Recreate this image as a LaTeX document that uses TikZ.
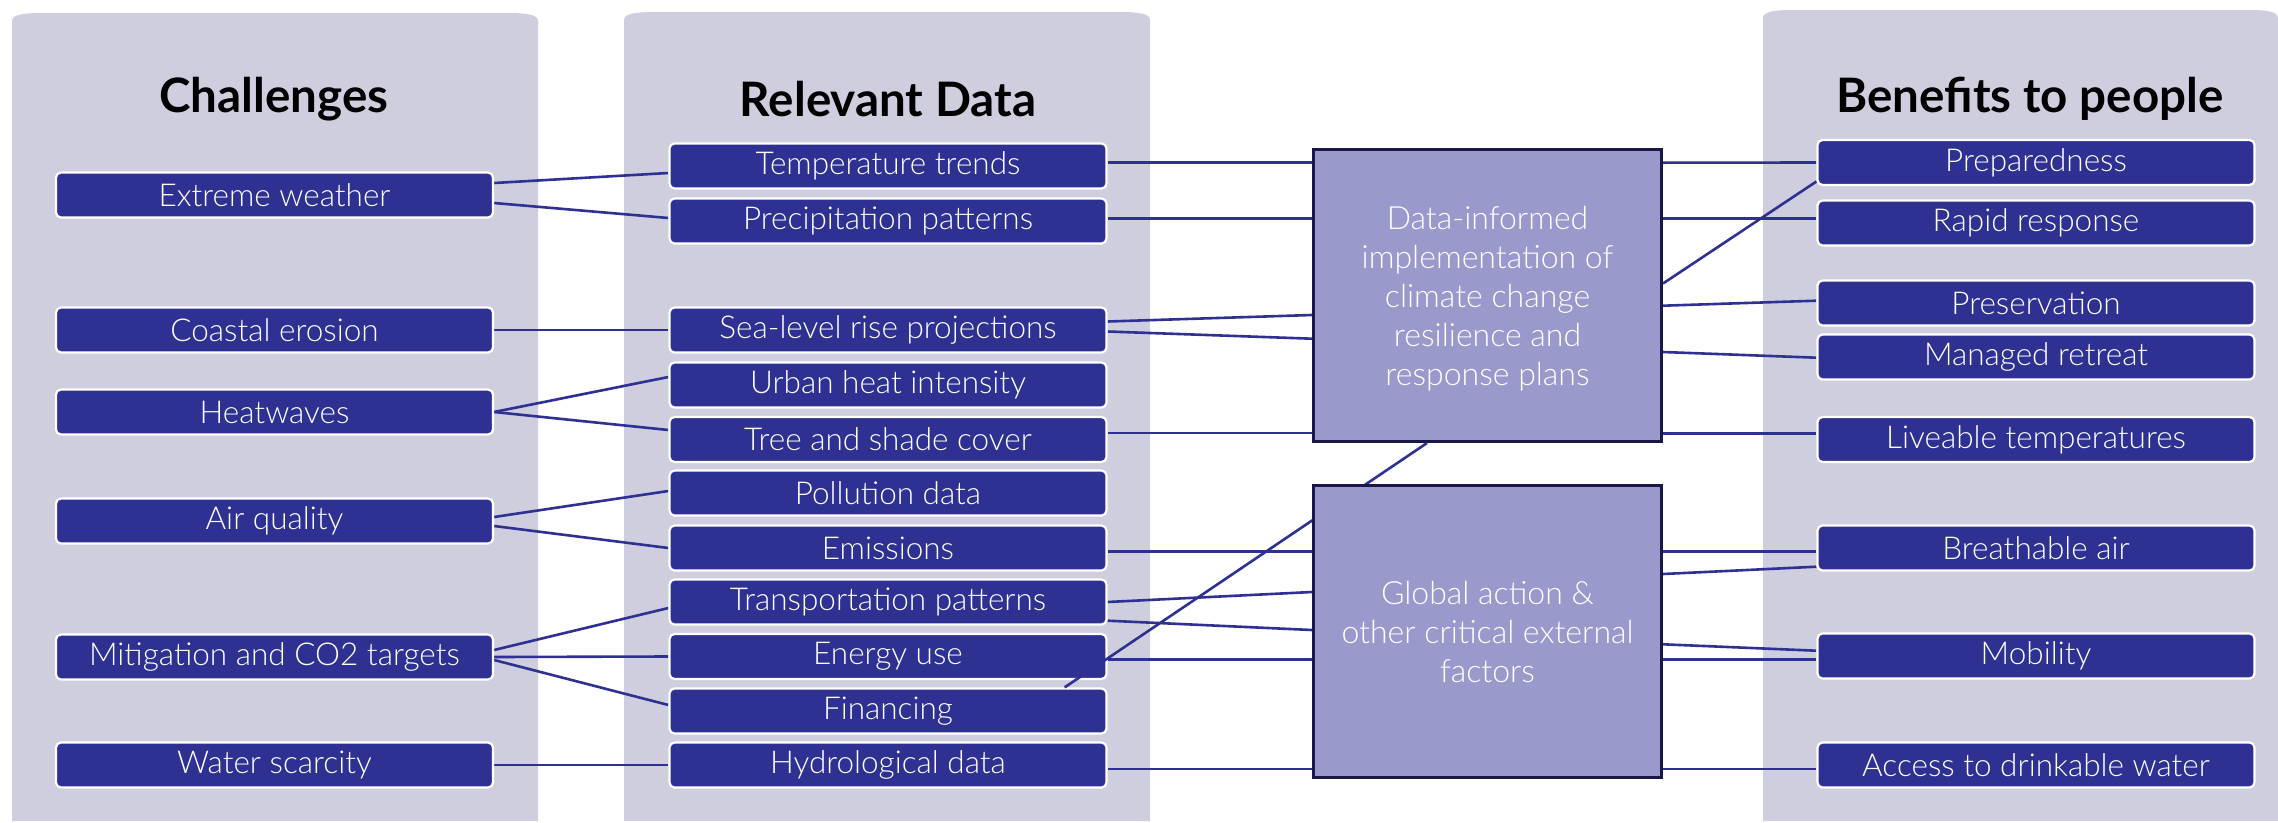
\documentclass[tikz,border=0pt]{standalone}
\usepackage{fontspec}
\setmainfont{Lato}
\newfontfamily\lightfont{Lato Light}

\definecolor{panelgrey}{RGB}{206,206,222}
\definecolor{navy}{RGB}{46,49,146}
\definecolor{hubfill}{RGB}{153,153,204}
\definecolor{hubedge}{RGB}{24,24,72}

\pgfdeclarelayer{panels}
\pgfdeclarelayer{links}
\pgfsetlayers{panels,links,main}

\tikzset{
  item/.style={rectangle, rounded corners=5pt, fill=navy, draw=white,
    line width=2.2pt, minimum width=437pt, minimum height=45pt, inner sep=0pt,
    text=white, font=\lightfont\fontsize{31.5}{34}\selectfont},
  hub/.style={rectangle, fill=hubfill, draw=hubedge, line width=3pt,
    minimum width=348pt, minimum height=292pt},
  hubtext/.style={text=white, align=center, inner sep=0pt,
    font=\lightfont\fontsize{32}{39}\selectfont},
  head/.style={font=\bfseries\fontsize{47.5}{52}\selectfont, text=black},
  link/.style={draw=navy, line width=2.6pt},
}

% column background with softly rounded top corners
\newcommand\panelshape[3]{%
  \fill[panelgrey] (#1,821) -- (#1,#3+8)
    .. controls (#1,#3+2) and (#1+10,#3) .. (#1+30,#3)
    -- (#2-30,#3)
    .. controls (#2-10,#3) and (#2,#3+2) .. (#2,#3+8)
    -- (#2,821) -- cycle;}

\begin{document}
\begin{tikzpicture}[x=1pt,y=-1pt]
\useasboundingbox (0,0) rectangle (2278,822);

\begin{pgfonlayer}{panels}
  \panelshape{12}{538}{13}
  \panelshape{624}{1150}{12}
  \panelshape{1763}{2278}{10}
\end{pgfonlayer}

% column headings
\node[head] (hc) at (274,99) {Challenges};
\node[head] (hd) at (888,99) {Relevant Data};
\node[head] (hb) at (2030,99) {Benefits to people};

% challenges
\node[item] (ew) at (274.5,195) {Extreme weather};
\node[item] (ce) at (274.5,330) {Coastal erosion};
\node[item] (hw) at (274.5,412) {Heatwaves};
\node[item] (aq) at (274.5,521) {Air quality};
\node[item] (mt) at (274.5,657) {Mitigation and CO2 targets};
\node[item] (ws) at (274.5,765) {Water scarcity};

% relevant data
\node[item] (tt) at (888,166) {Temperature trends};
\node[item] (pp) at (888,221) {Precipitation patterns};
\node[item] (sl) at (888,330) {Sea-level rise projections};
\node[item] (uh) at (888,385) {Urban heat intensity};
\node[item] (ts) at (888,439.5) {Tree and shade cover};
\node[item] (pd) at (888,493) {Pollution data};
\node[item] (em) at (888,548) {Emissions};
\node[item] (tp) at (888,602) {Transportation patterns};
\node[item] (eu) at (888,656.5) {Energy use};
\node[item] (fi) at (888,711) {Financing};
\node[item] (hy) at (888,765) {Hydrological data};

% upper hub
\node[hub] (pa) at (1487.5,295.5) {};
\node[hubtext] (patext) at ([yshift=-3.5pt]pa.center) {Data-informed\\implementation of\\climate change\\resilience and\\response plans};

% financing link runs up behind the lower hub
\draw[link] ([xshift=-43pt]fi.north east) -- ([xshift=115pt]pa.south west);

% lower hub
\node[hub] (pb) at (1487.5,631.5) {};
\node[hubtext] (pbtext) at (pb.center) {Global action \&\\other critical external\\factors};

% benefits
\node[item] (pr) at (2036,162.5) {Preparedness};
\node[item] (rr) at (2036,223) {Rapid response};
\node[item] (ps) at (2036,303) {Preservation};
\node[item] (mr) at (2036,357) {Managed retreat};
\node[item] (lt) at (2036,439.5) {Liveable temperatures};
\node[item] (ba) at (2036,548) {Breathable air};
\node[item] (mo) at (2036,656) {Mobility};
\node[item] (ac) at (2036,765) {Access to drinkable water};

\begin{pgfonlayer}{links}
  % challenges to data
  \draw[link] ([yshift=12pt]ew.east) -- ([yshift=-7pt]tt.west);
  \draw[link] ([yshift=-8pt]ew.east) -- ([yshift=3pt]pp.west);
  \draw[link] (ce.east) -- (sl.west);
  \draw[link] (hw.east) -- ([yshift=8pt]uh.west);
  \draw[link] (hw.east) -- ([yshift=9.5pt]ts.west);
  \draw[link] ([yshift=4pt]aq.east) -- ([yshift=2pt]pd.west);
  \draw[link] ([yshift=-5pt]aq.east) -- (em.west);
  \draw[link] ([yshift=7pt]mt.east) -- ([yshift=-6pt]tp.west);
  \draw[link] (mt.east) -- (eu.west);
  \draw[link] ([yshift=-3pt]mt.east) -- ([yshift=6pt]fi.west);
  \draw[link] (ws.east) -- (hy.west);

  % data to upper hub
  \draw[link] ([yshift=3.5pt]tt.east) -- ([yshift=133pt]pa.west);
  \draw[link] ([yshift=2.7pt]pp.east) -- ([yshift=77.2pt]pa.west);
  \draw[link] ([yshift=8.5pt]sl.east) -- ([yshift=-19.5pt]pa.west);
  \draw[link] ([yshift=-1.5pt]sl.east) -- ([yshift=-43.2pt]pa.west);
  \draw[link] ([yshift=6.5pt]ts.east) -- ([yshift=-137.5pt]pa.west);

  % data to lower hub
  \draw[link] ([yshift=-3.7pt]em.east) -- ([yshift=79.8pt]pb.west);
  \draw[link] (tp.east) -- ([yshift=39.5pt]pb.west);
  \draw[link] ([yshift=-18.7pt]tp.east) -- ([yshift=1.5pt]pb.west);
  \draw[link] ([yshift=-2.8pt]eu.east) -- ([yshift=-27.8pt]pb.west);
  \draw[link] ([yshift=-4pt]hy.east) -- ([yshift=-137.5pt]pb.west);

  % upper hub to benefits
  \draw[link] ([yshift=132.8pt]pa.east) -- (pr.west);
  \draw[link] ([yshift=77.2pt]pa.east) -- ([yshift=4.7pt]rr.west);
  \draw[link] ([yshift=12pt]pa.east) -- ([yshift=-19pt]pr.west);
  \draw[link] ([yshift=-10.2pt]pa.east) -- ([yshift=2.3pt]ps.west);
  \draw[link] ([yshift=-56.5pt]pa.east) -- ([yshift=-0.7pt]mr.west);
  \draw[link] ([yshift=-137.8pt]pa.east) -- ([yshift=6.2pt]lt.west);

  % lower hub to benefits
  \draw[link] ([yshift=79.8pt]pb.east) -- ([yshift=-3.7pt]ba.west);
  \draw[link] ([yshift=57.5pt]pb.east) -- ([yshift=-18.7pt]ba.west);
  \draw[link] ([yshift=-12.8pt]pb.east) -- ([yshift=5.3pt]mo.west);
  \draw[link] ([yshift=-27.8pt]pb.east) -- ([yshift=-3.3pt]mo.west);
  \draw[link] ([yshift=-137.5pt]pb.east) -- ([yshift=-4pt]ac.west);
\end{pgfonlayer}
\end{tikzpicture}
\end{document}
